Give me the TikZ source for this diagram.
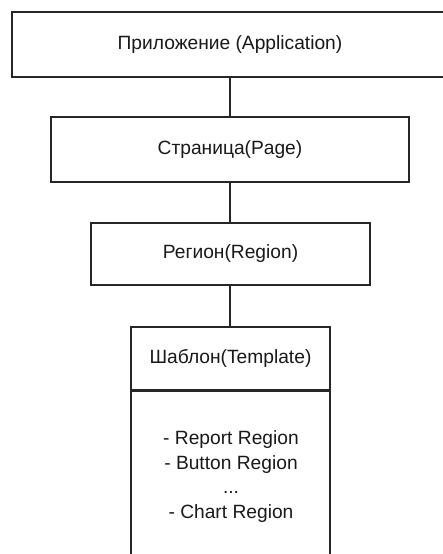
\documentclass[tikz,border=0pt]{standalone}
\usepackage{fontspec}
\setmainfont{Liberation Sans}
\begin{document}
\begin{tikzpicture}[x=1pt,y=-1pt,
  box/.style={draw=black!85, line width=1.6pt, fill=white, inner sep=0pt,
    font=\fontsize{19.2}{24.6}\selectfont, text=black!90},
  link/.style={draw=black!85, line width=1.6pt}]
  % page frame; the outer boxes run past it
  \clip (0,0) rectangle (443,554);
  \fill[white] (0,0) rectangle (443,554);

  \node[box, minimum width=436pt, minimum height=65pt] (app) at (230,44.5) {Приложение (Application)};
  \node[box, minimum width=358pt, minimum height=65pt] (page) at (230,149.5) {Страница(Page)};
  \node[box, minimum width=279pt, minimum height=62pt] (region) at (230.5,254) {Регион(Region)};
  \node[box, minimum width=199pt, minimum height=63pt] (tpl) at (230.5,358.5) {Шаблон(Template)};
  \node[box, minimum width=199pt, minimum height=240pt, anchor=north] (tplbody) at (tpl.south) {};
  \node[font=\fontsize{19.2}{24.6}\selectfont, text=black!90, align=center] (items) at (231,476.5)
    {- Report Region\\- Button Region\\...\\- Chart Region};

  \draw[link] (app.south -| page.north) -- (page.north);
  \draw[link] (page.south) -- (page.south |- region.north);
  \draw[link] (region.south -| page.south) -- (page.south |- tpl.north);
\end{tikzpicture}
\end{document}
